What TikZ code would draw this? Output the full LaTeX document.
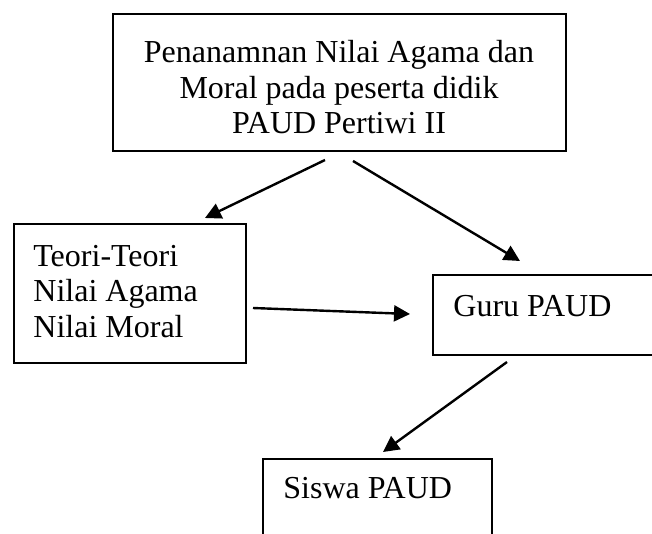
\documentclass[tikz,border=0pt]{standalone}
\usepackage{fontspec}
\setmainfont{Liberation Serif}
\usetikzlibrary{arrows.meta}
\begin{document}
\begin{tikzpicture}[x=0.5pt,y=-0.5pt,
  box/.style={draw=black,line width=1pt,rectangle,anchor=north west,inner sep=0pt},
  label/.style={inner sep=0pt,font=\fontsize{16}{17.75}\selectfont},
  arr/.style={line width=1.2pt,-{Triangle[length=8pt,width=8pt]}}]
\useasboundingbox (0,0) rectangle (652,534);
\clip (0,0) rectangle (652,534);
% boxes
\node[box,minimum width=226.5pt,minimum height=68.5pt] (top) at (112,13) {};
\node[box,minimum width=116pt,minimum height=69.5pt] (teori) at (13,223) {};
\node[box,minimum width=124pt,minimum height=40pt] (guru) at (432,274) {};
\node[box,minimum width=114.5pt,minimum height=51pt] (siswa) at (262,458) {};
% texts (base anchor = baseline of the last line)
\node[label,align=center,anchor=base] (toptext) at (339,134) {Penanamnan Nilai Agama dan\\Moral pada peserta didik\\PAUD Pertiwi II};
\node[label,align=left,anchor=base west] (teoritext) at (33,337) {Teori-Teori\\Nilai Agama\\Nilai Moral};
\node[label,anchor=base west] (gurutext) at (453,316) {Guru PAUD};
\node[label,anchor=base west] (siswatext) at (283,498) {Siswa PAUD};
% arrow end points
\coordinate (a1s) at (325,160);
\coordinate (a1e) at (205,218);
\coordinate (a2s) at (353,161);
\coordinate (a2e) at (520,261);
\coordinate (a3s) at (253,308);
\coordinate (a3e) at (410,314);
\coordinate (a4s) at (507,362);
\coordinate (a4e) at (383,452);
\draw[arr] (a1s) -- (a1e);
\draw[arr] (a2s) -- (a2e);
\draw[arr] (a3s) -- (a3e);
\draw[arr] (a4s) -- (a4e);
\end{tikzpicture}
\end{document}
